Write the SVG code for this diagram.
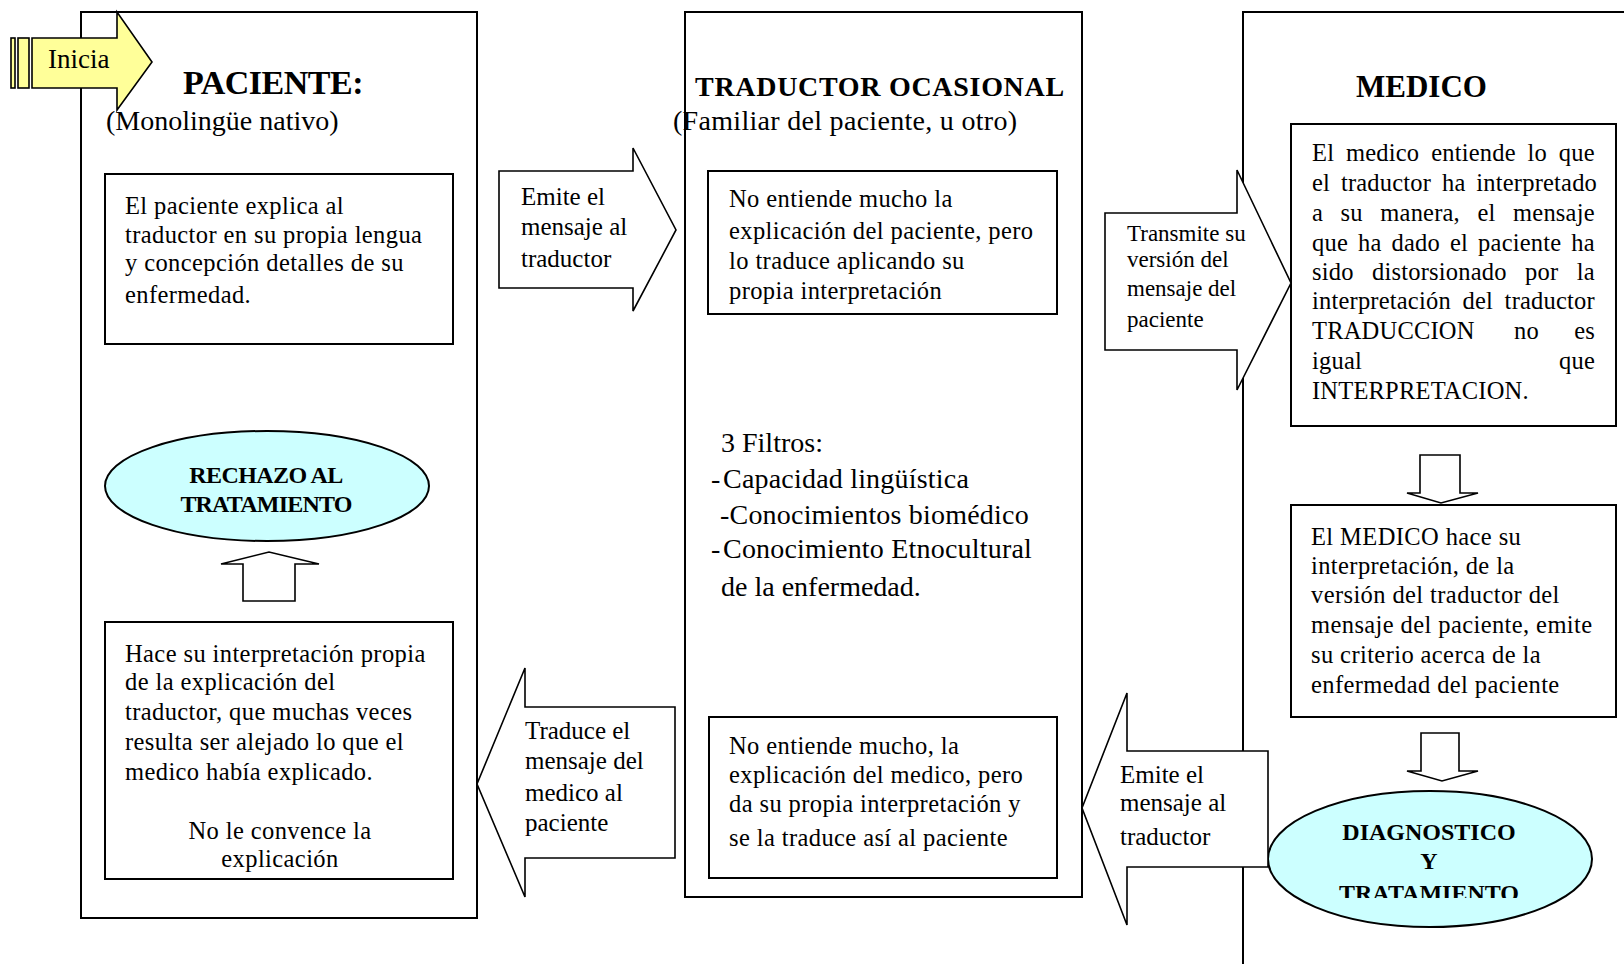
<svg xmlns="http://www.w3.org/2000/svg" width="1624" height="964" viewBox="0 0 1624 964">
  <defs>
    <style>
      .frame { fill: #ffffff; stroke: #000000; stroke-width: 2; }
      .box { fill: #ffffff; stroke: #000000; stroke-width: 2; }
      .blk { fill: #ffffff; stroke: #000000; stroke-width: 1.6; stroke-linejoin: miter; }
      .oval { fill: #ccffff; stroke: #000000; stroke-width: 2; }
      .start { fill: #ffff99; stroke: #000000; stroke-width: 1.6; }
      text { font-family: "Liberation Serif", "Times New Roman", serif; fill: #000000; }
      .title { font-weight: bold; }
      .body { font-size: 24.5px; letter-spacing: 0.4px; }
      .just { font-size: 24.5px; letter-spacing: 0.2px; }
      .lbl { font-size: 25px; }
      .lbl-s { font-size: 23px; }
      .sub { font-size: 28px; }
      .oval-t { font-size: 24px; font-weight: bold; text-anchor: middle; }
    </style>
    <clipPath id="clip-diag">
      <rect x="1260" y="780" width="340" height="118"/>
    </clipPath>
  </defs>

  <rect width="1624" height="964" fill="#ffffff"/>

  <!-- Column: patient -->
  <g id="col-paciente">
    <rect class="frame" x="81" y="12" width="396" height="906"/>
    <text class="title" x="183" y="94" font-size="34" letter-spacing="-0.5">PACIENTE:</text>
    <text class="sub" x="106" y="130">(Monolingüe nativo)</text>
  </g>

  <!-- Column: occasional translator -->
  <g id="col-traductor">
    <rect class="frame" x="685" y="12" width="397" height="885"/>
    <text class="title" x="695" y="96" font-size="28" letter-spacing="0.7">TRADUCTOR OCASIONAL</text>
    <text class="sub" x="673" y="130" letter-spacing="0.3">(Familiar del paciente, u otro)</text>
  </g>

  <!-- Column: doctor (runs off the right and bottom edges) -->
  <g id="col-medico">
    <path d="M1243,964 V12 H1624" fill="none" stroke="#000000" stroke-width="2"/>
    <text class="title" x="1356" y="97" font-size="31">MEDICO</text>
  </g>

  <!-- Patient explains -->
  <g id="paciente-explica">
    <rect class="box" x="105" y="174" width="348" height="170"/>
    <text class="body" x="125" y="214">El paciente explica al</text>
    <text class="body" x="125" y="243">traductor en su propia lengua</text>
    <text class="body" x="125" y="271">y concepción detalles de su</text>
    <text class="body" x="125" y="303">enfermedad.</text>
  </g>

  <!-- Rejection of treatment -->
  <g id="rechazo">
    <ellipse class="oval" cx="267" cy="486" rx="162" ry="55"/>
    <text class="oval-t" x="266" y="483" letter-spacing="-0.6">RECHAZO AL</text>
    <text class="oval-t" x="266" y="512" letter-spacing="-0.8">TRATAMIENTO</text>
  </g>

  <!-- Patient interprets -->
  <g id="paciente-interpreta">
    <rect class="box" x="105" y="622" width="348" height="257"/>
    <text class="body" x="125" y="662">Hace su interpretación propia</text>
    <text class="body" x="125" y="690">de la explicación del</text>
    <text class="body" x="125" y="720">traductor, que muchas veces</text>
    <text class="body" x="125" y="750">resulta ser alejado lo que el</text>
    <text class="body" x="125" y="780">medico había explicado.</text>
    <text class="body" x="280" y="839" text-anchor="middle">No le convence la</text>
    <text class="body" x="280" y="867" text-anchor="middle">explicación</text>
  </g>

  <!-- Translator receives patient message -->
  <g id="traductor-paciente">
    <rect class="box" x="708" y="171" width="349" height="143"/>
    <text class="body" x="729" y="207">No entiende mucho la</text>
    <text class="body" x="729" y="239">explicación del paciente, pero</text>
    <text class="body" x="729" y="269">lo traduce aplicando su</text>
    <text class="body" x="729" y="299">propia interpretación</text>
  </g>

  <!-- Three filters -->
  <g id="filtros">
    <text class="sub" x="721" y="452">3 Filtros:</text>
    <text class="sub" y="488" letter-spacing="0.2"><tspan x="711">-</tspan><tspan x="723">Capacidad lingüística</tspan></text>
    <text class="sub" x="720" y="524" letter-spacing="0.2">-Conocimientos biomédico</text>
    <text class="sub" y="558" letter-spacing="0.2"><tspan x="711">-</tspan><tspan x="723">Conocimiento Etnocultural</tspan></text>
    <text class="sub" x="721" y="596">de la enfermedad.</text>
  </g>

  <!-- Translator receives doctor message -->
  <g id="traductor-medico">
    <rect class="box" x="709" y="717" width="348" height="161"/>
    <text class="body" x="729" y="754">No entiende mucho, la</text>
    <text class="body" x="729" y="783">explicación del medico, pero</text>
    <text class="body" x="729" y="812">da su propia interpretación y</text>
    <text class="body" x="729" y="846">se la traduce así al paciente</text>
  </g>

  <!-- Doctor understands -->
  <g id="medico-entiende">
    <rect class="box" x="1291" y="124" width="325" height="302"/>
    <text class="just" x="1312" y="161" word-spacing="5.5">El medico entiende lo que</text>
    <text class="just" x="1312" y="191" word-spacing="4.5">el traductor ha interpretado</text>
    <text class="just" x="1312" y="221" word-spacing="11.2">a su manera, el mensaje</text>
    <text class="just" x="1312" y="251" word-spacing="3.7">que ha dado el paciente ha</text>
    <text class="just" x="1312" y="280" word-spacing="12.1">sido distorsionado por la</text>
    <text class="just" x="1312" y="309" word-spacing="5.3">interpretación del traductor</text>
    <text class="just" x="1312" y="339">TRADUCCION</text>
    <text class="just" x="1514" y="339">no</text>
    <text class="just" x="1595" y="339" text-anchor="end">es</text>
    <text class="just" x="1312" y="369">igual</text>
    <text class="just" x="1595" y="369" text-anchor="end">que</text>
    <text class="just" x="1312" y="399">INTERPRETACION.</text>
  </g>

  <!-- Doctor interprets -->
  <g id="medico-interpreta">
    <rect class="box" x="1291" y="505" width="325" height="212"/>
    <text class="body" x="1311" y="545">El MEDICO hace su</text>
    <text class="body" x="1311" y="574">interpretación, de la</text>
    <text class="body" x="1311" y="603">versión del traductor del</text>
    <text class="body" x="1311" y="633">mensaje del paciente, emite</text>
    <text class="body" x="1311" y="663">su criterio acerca de la</text>
    <text class="body" x="1311" y="693">enfermedad del paciente</text>
  </g>

  <!-- Diagnosis and treatment -->
  <g id="diagnostico">
    <ellipse class="oval" cx="1430" cy="859" rx="162" ry="68"/>
    <text class="oval-t" x="1429" y="840">DIAGNOSTICO</text>
    <text class="oval-t" x="1429" y="869">Y</text>
    <text class="oval-t" x="1429" y="901" clip-path="url(#clip-diag)">TRATAMIENTO</text>
  </g>

  <!-- Block arrows between the stages -->
  <g id="connectors">
    <g id="inicia">
      <rect class="start" x="11" y="38" width="4" height="50"/>
      <rect class="start" x="18" y="38" width="11" height="50"/>
      <polygon class="start" points="32,38 117,38 117,12 152,62 117,110 117,88 32,88"/>
      <text x="48" y="68" font-size="27">Inicia</text>
    </g>

    <g id="arrow-emite-paciente">
      <polygon class="blk" points="499,171 633,171 633,148 676,230 633,311 633,288 499,288"/>
      <text class="lbl" x="521" y="205">Emite el</text>
      <text class="lbl" x="521" y="235">mensaje al</text>
      <text class="lbl" x="521" y="267">traductor</text>
    </g>

    <g id="arrow-transmite">
      <polygon class="blk" points="1105,213 1237,213 1237,170 1291,283 1237,390 1237,350 1105,350"/>
      <text class="lbl-s" x="1127" y="241">Transmite su</text>
      <text class="lbl-s" x="1127" y="267">versión del</text>
      <text class="lbl-s" x="1127" y="296">mensaje del</text>
      <text class="lbl-s" x="1127" y="327">paciente</text>
    </g>

    <g id="arrow-down-1">
      <polygon class="blk" points="1420,455 1460,455 1460,493 1478,493 1441,503 1407,493 1420,493"/>
    </g>

    <g id="arrow-down-2">
      <polygon class="blk" points="1421,733 1459,733 1459,771 1478,771 1442,781 1407,771 1421,771"/>
    </g>

    <g id="arrow-emite-medico">
      <polygon class="blk" points="1268,751 1127,751 1127,693 1082,808 1127,925 1127,867 1268,867"/>
      <text class="lbl" x="1120" y="783">Emite el</text>
      <text class="lbl" x="1120" y="811">mensaje al</text>
      <text class="lbl" x="1120" y="845">traductor</text>
    </g>

    <g id="arrow-traduce">
      <polygon class="blk" points="675,707 525,707 525,668 477,784 525,897 525,858 675,858"/>
      <text class="lbl" x="525" y="739">Traduce el</text>
      <text class="lbl" x="525" y="769">mensaje del</text>
      <text class="lbl" x="525" y="801">medico al</text>
      <text class="lbl" x="525" y="831">paciente</text>
    </g>

    <g id="arrow-up">
      <polygon class="blk" points="243,601 243,564 221,564 269,552 319,564 295,564 295,601"/>
    </g>
  </g>
</svg>
